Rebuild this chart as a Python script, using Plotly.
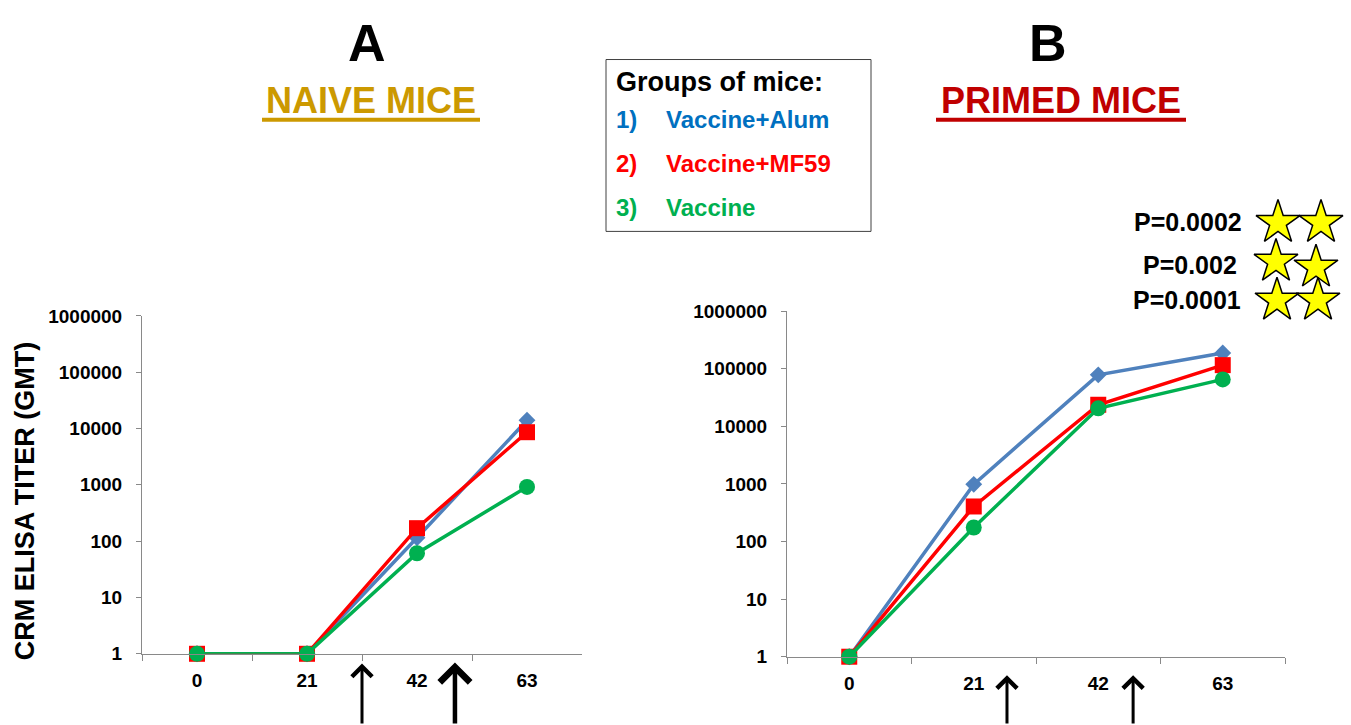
import plotly.graph_objects as go

# ---------------- data ----------------
days = ["0", "21", "42", "63"]
group_names = ["Vaccine+Alum", "Vaccine+MF59", "Vaccine"]
naive_alum = [1, 1, 115, 14000]
naive_mf59 = [1, 1, 170, 8600]
naive_vacc = [1, 1, 61, 920]
primed_alum = [1, 980, 78000, 187000]
primed_mf59 = [1, 405, 23600, 115000]
primed_vacc = [1, 175, 20500, 65000]
y_tickvals = [1, 10, 100, 1000, 10000, 100000, 1000000]
y_ticktext = ["1", "10", "100", "1000", "10000", "100000", "1000000"]
naive_arrows = [1.5, 2.345]      # immunisation arrows (category index)
primed_arrows = [1.267, 2.28]
p_values = ["P=0.0002", "P=0.002", "P=0.0001"]

# ---------------- styles ----------------
W, H = 1351, 725
FONT = "Liberation Sans, Arial, sans-serif"
line_colors = ["#4F81BD", "#FF0000", "#00B050"]
text_colors = ["#0070C0", "#FF0000", "#00B050"]
symbols = ["diamond", "square", "circle"]
msizes = [13, 16, 16]
AX = "#898989"


def px(x):
    return x / W


def py(y):
    return 1 - y / H


fig = go.Figure()

naive = [naive_alum, naive_mf59, naive_vacc]
primed = [primed_alum, primed_mf59, primed_vacc]
for series_set, xa, ya in [(naive, "x", "y"), (primed, "x2", "y2")]:
    for i, vals in enumerate(series_set):
        fig.add_trace(go.Scatter(
            x=days, y=vals, xaxis=xa, yaxis=ya, mode="lines+markers",
            name=group_names[i], showlegend=False, cliponaxis=False,
            line=dict(color=line_colors[i], width=3.5),
            marker=dict(symbol=symbols[i], size=msizes[i], color=line_colors[i],
                        line=dict(width=0)),
        ))

tickfont = dict(family=FONT, size=19, color="black", weight="bold")
xcommon = dict(type="category", range=[-0.5, 3.5], showline=True, linecolor=AX,
               linewidth=1, ticks="outside", ticklen=6, tickcolor=AX, tickwidth=1,
               tickson="boundaries", showgrid=False, zeroline=False,
               tickfont=tickfont, fixedrange=True, ticklabelstandoff=9)
ycommon = dict(type="log", range=[0, 6], tickvals=y_tickvals, ticktext=y_ticktext,
               showline=True, linecolor=AX, linewidth=1, ticks="outside", ticklen=5,
               tickcolor=AX, tickwidth=1, showgrid=False, zeroline=False,
               tickfont=tickfont, fixedrange=True, ticklabelstandoff=10)

# overlay axis in page pixels for the decorative stars
p_rows_y = [218, 263, 299]
star_x = [1278, 1321, 1276, 1316, 1277, 1318]
star_y = [219, 219, 259, 265, 299, 299]
fig.add_trace(go.Scatter(
    x=star_x, y=star_y, xaxis="x3", yaxis="y3", mode="markers", showlegend=False,
    cliponaxis=False, hoverinfo="skip",
    marker=dict(symbol="star", size=33, color="#FFFF00", line=dict(color="black", width=1.5)),
))

fig.update_layout(
    width=W, height=H, autosize=False,
    margin=dict(l=0, r=0, t=0, b=0),
    paper_bgcolor="white", plot_bgcolor="rgba(0,0,0,0)",
    xaxis=dict(domain=[px(142), px(582)], anchor="y", **xcommon),
    yaxis=dict(domain=[py(663), py(315)], anchor="x", **ycommon),
    xaxis2=dict(domain=[px(787), px(1285)], anchor="y2", **xcommon),
    yaxis2=dict(domain=[py(666), py(310)], anchor="x2", **ycommon),
    xaxis3=dict(domain=[0, 1], range=[0, W], anchor="y3", visible=False, fixedrange=True),
    yaxis3=dict(domain=[0, 1], range=[H, 0], anchor="x3", visible=False, fixedrange=True),
    showlegend=False,
)

ann = []
bold = lambda size, color="black": dict(family=FONT, size=size, color=color, weight="bold")

# y axis title
ann.append(dict(text="CRM ELISA TITER (GMT)", xref="paper", yref="paper",
                x=px(25), y=py(506), textangle=-90, showarrow=False,
                font=bold(27), xanchor="center", yanchor="middle"))
# panel letters and titles
ann.append(dict(text="A", xref="paper", yref="paper", x=px(367), y=py(34), showarrow=False,
                font=bold(52), xanchor="center", yanchor="middle"))
ann.append(dict(text="B", xref="paper", yref="paper", x=px(1048), y=py(34), showarrow=False,
                font=bold(52), xanchor="center", yanchor="middle"))
ann.append(dict(text="NAIVE MICE", xref="paper", yref="paper", x=px(371), y=py(93),
                showarrow=False, font=bold(36, "#CC9900"), xanchor="center", yanchor="middle"))
ann.append(dict(text="PRIMED MICE", xref="paper", yref="paper", x=px(1061), y=py(93),
                showarrow=False, font=bold(36, "#C00000"), xanchor="center", yanchor="middle"))

# legend box text
ann.append(dict(text="Groups of mice:", xref="paper", yref="paper", x=px(614), y=py(74),
                showarrow=False, font=bold(27), xanchor="left", yanchor="middle"))
leg_y = [113, 158, 203]
for i in range(3):
    ann.append(dict(text=f"{i + 1})", xref="paper", yref="paper", x=px(614), y=py(leg_y[i]),
                    showarrow=False, font=bold(24, text_colors[i]), xanchor="left", yanchor="middle"))
    ann.append(dict(text=group_names[i], xref="paper", yref="paper", x=px(664), y=py(leg_y[i]),
                    showarrow=False, font=bold(24, text_colors[i]), xanchor="left", yanchor="middle"))

# p-values
p_right = [1244, 1239, 1243]
for i, t in enumerate(p_values):
    ann.append(dict(text=t, xref="paper", yref="paper", x=px(p_right[i]), y=py(p_rows_y[i]),
                    showarrow=False, font=bold(25), xanchor="right", yanchor="middle"))

# immunisation arrows
for xa, arrows, tips, widths in [("x", naive_arrows, [673, 672], [3, 4.5]),
                                 ("x2", primed_arrows, [685, 685], [3, 3])]:
    for a, tip, w in zip(arrows, tips, widths):
        ann.append(dict(text="", x=a, xref=xa, y=py(tip), yref="paper",
                        showarrow=True, ax=0, ay=H - tip + 10, axref="pixel", ayref="pixel",
                        arrowhead=4, arrowsize=1.3, arrowwidth=w, arrowcolor="black"))

fig.update_layout(annotations=ann)

shapes = [
    dict(type="rect", xref="paper", yref="paper", x0=px(606), x1=px(871), y0=py(51), y1=py(228),
         line=dict(color="#404040", width=1), fillcolor="rgba(0,0,0,0)"),
    dict(type="line", xref="paper", yref="paper", x0=px(262), x1=px(480), y0=py(113), y1=py(113),
         line=dict(color="#CC9900", width=4)),
    dict(type="line", xref="paper", yref="paper", x0=px(936), x1=px(1186), y0=py(113), y1=py(113),
         line=dict(color="#C00000", width=4)),
]
fig.update_layout(shapes=shapes)

fig.write_html("out.html")
